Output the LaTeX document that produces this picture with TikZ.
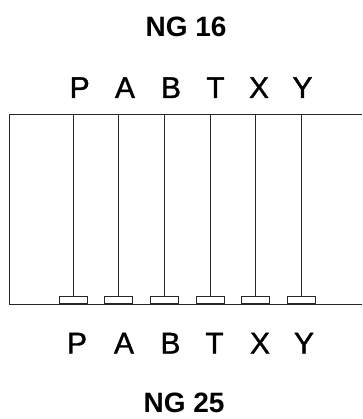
\documentclass[tikz,border=0pt]{standalone}
\usepackage{fontspec}
\setmainfont{Liberation Sans}
\newfontfamily\letfont[FakeBold=1.2]{Liberation Sans}
\begin{document}
\begin{tikzpicture}[x=1pt,y=-1pt,
  ln/.style={draw=black!85,line width=0.9pt},
  lett/.style={anchor=base,inner sep=0pt,font=\letfont\fontsize{30}{36}\selectfont},
  title/.style={anchor=base,inner sep=0pt,font=\fontsize{28}{34}\selectfont\bfseries},
  foot/.style={draw=black!85,line width=0.9pt,minimum width=28pt,minimum height=7pt,inner sep=0pt,anchor=south,fill=white}]
\useasboundingbox (0,0) rectangle (362,419);
% frame (open at the right)
\coordinate (tr) at (362,114);
\coordinate (tl) at (9,114);
\coordinate (bl) at (9,304);
\coordinate (br) at (362,304);
\draw[ln] (tr) -- (tl) -- (bl) -- (br);
% titles
\node[title] (ng16) at (186,37) {NG 16};
\node[title] (ng25) at (184,412) {NG 25};
% columns
\foreach \n/\x/\tx/\bx [count=\i] in {P/73/79.7/77, A/118.3/125/124, B/164/171/170.5, T/210/215.5/214.5, X/255/259/260, Y/301/302.5/304}{
  \node[lett] (t\i) at (\tx,98) {\n};
  \node[lett] (b\i) at (\bx,103.5+250) {\n};
  \coordinate (c\i) at (\x,114);
  \node[foot] (f\i) at (\x,304) {};
  \draw[ln] (c\i) -- (f\i.north);
}
\end{tikzpicture}
\end{document}
